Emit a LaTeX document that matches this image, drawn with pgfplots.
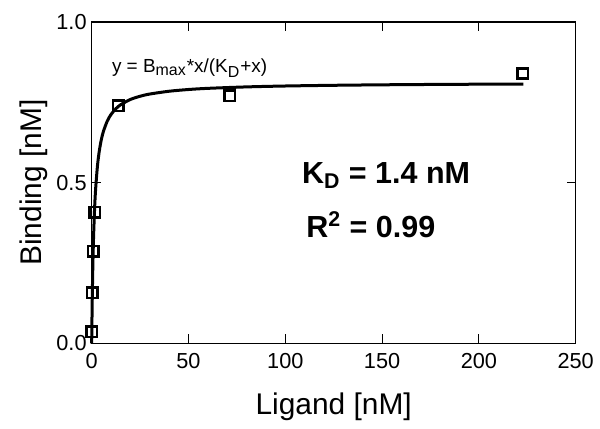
\documentclass[border=0pt]{standalone}
\usepackage{fontspec}
\setmainfont{Liberation Sans}
\usepackage{pgfplots}
\pgfplotsset{compat=1.18}
\begin{document}
\begin{tikzpicture}
\begin{axis}[
  scale only axis, width=242bp, height=160.65bp,
  xmin=0, xmax=250, ymin=0, ymax=1,
  xtick={0,50,100,150,200,250}, ytick={0,0.5,1},
  clip=false,
  tick align=inside, major tick length=4.5bp,
  axis line style={line width=0.6pt},
  every tick/.style={black, line width=0.6pt},
  /pgf/number format/assume math mode=true,
  tick label style={font=\fontsize{10.9}{12}\selectfont},
  xticklabel style={anchor=base, yshift=-12.5bp},
  yticklabel style={anchor=east, inner sep=0pt, xshift=-2.35bp,
    /pgf/number format/.cd, fixed, fixed zerofill, precision=1},
  xlabel={Ligand [nM]}, ylabel={Binding [nM]},
  label style={font=\fontsize{15}{18}\selectfont},
  xlabel style={at={([yshift=-35.85bp]axis description cs:0.5,0)}, anchor=base},
  ylabel style={at={([xshift=-25bp]axis description cs:0,0.5)}, anchor=base},
]
% fitted curve, Bmax*x/(KD+x) with KD = 1.4
\addplot[black, line width=1.5bp, smooth] coordinates {
  (0,0) (0.1,0.0541) (0.25,0.1230) (0.5,0.2137) (0.75,0.2833) (1,0.3383)
  (1.5,0.4200) (2,0.4776) (3,0.5536) (4,0.6015) (5,0.6344) (6,0.6584)
  (8,0.6911) (10,0.7123) (12.5,0.7302) (15,0.7427) (20,0.7589) (25,0.7689)
  (30,0.7758) (40,0.7845) (50,0.7899) (60,0.7935) (80,0.7980) (100,0.8008)
  (125,0.8030) (150,0.8045) (175,0.8056) (200,0.8064) (223,0.8069)
};
% measured binding
\addplot[only marks, mark=square, mark size=2.6bp,
  mark options={black, line width=1.3bp, fill=none}] coordinates {
  (0.1,0.036) (0.35,0.157) (0.8,0.287) (1.7,0.408)
  (13.6,0.739) (71.4,0.770) (222.6,0.840)
};
\node[anchor=base west, font=\fontsize{9.5}{11}\selectfont]
  at ([xshift=6.65bp]axis cs:0,0.842) {y = B\textsubscript{\fontsize{8}{9}\selectfont max}*x/(K\textsubscript{\fontsize{8}{9}\selectfont D}+x)};
\node[anchor=base west, font=\bfseries\fontsize{15.3}{18}\selectfont]
  at (axis cs:105,0.498) {K\textsubscript{D} = 1.4 nM};
\node[anchor=base west, font=\bfseries\fontsize{15.3}{18}\selectfont]
  at (axis cs:107.2,0.33) {R\textsuperscript{2} = 0.99};
\end{axis}
\pgfresetboundingbox
\path[use as bounding box] (-45.85bp,-42.85bp) rectangle (254.15bp,171.65bp);
\end{tikzpicture}
\end{document}
